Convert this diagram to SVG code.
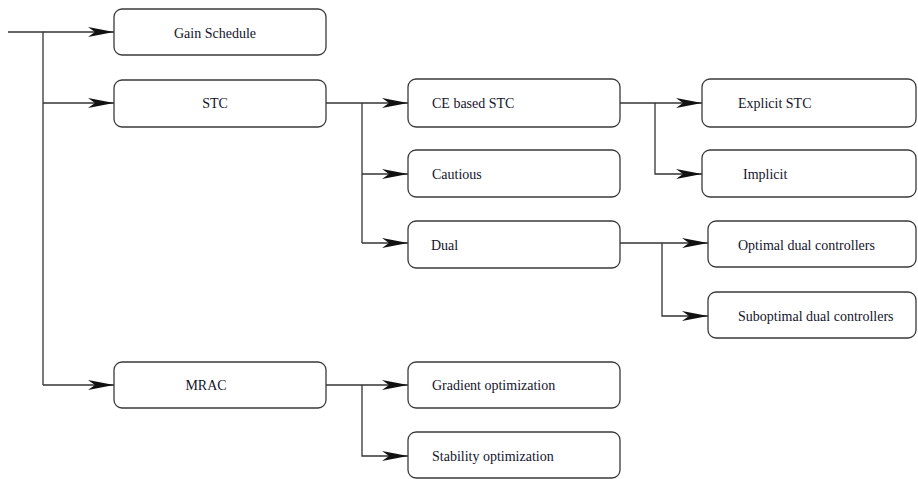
<svg xmlns="http://www.w3.org/2000/svg" width="918" height="479" viewBox="0 0 918 479">
<defs>
<style>
.box{fill:#fff;stroke:#3a3a3a;stroke-width:1.3}
.t{font-family:"Liberation Serif","Times New Roman",serif;font-size:14px;fill:#14142b}
.c{text-anchor:middle}
.ln{fill:none;stroke:#333;stroke-width:1.3}
</style>
<marker id="ah" viewBox="0 0 26 10" refX="26" refY="5" markerWidth="26" markerHeight="10" markerUnits="userSpaceOnUse" orient="auto">
<path d="M0,0 L26,5 L0,10 L7,5 Z" fill="#111"/>
</marker>
</defs>
<g id="connectors">
<path class="ln" d="M8,32 H43 V385"/>
<path class="ln" d="M43,32 H114" marker-end="url(#ah)"/>
<path class="ln" d="M43,103 H114" marker-end="url(#ah)"/>
<path class="ln" d="M43,385 H114" marker-end="url(#ah)"/>
<path class="ln" d="M326,103 H408" marker-end="url(#ah)"/>
<path class="ln" d="M362,103 V243"/>
<path class="ln" d="M362,174 H408" marker-end="url(#ah)"/>
<path class="ln" d="M362,243 H408" marker-end="url(#ah)"/>
<path class="ln" d="M620,103 H702" marker-end="url(#ah)"/>
<path class="ln" d="M655,103 V174 H702" marker-end="url(#ah)"/>
<path class="ln" d="M620,243 H708" marker-end="url(#ah)"/>
<path class="ln" d="M662,243 V316 H708" marker-end="url(#ah)"/>
<path class="ln" d="M326,385 H408" marker-end="url(#ah)"/>
<path class="ln" d="M362,385 V456 H408" marker-end="url(#ah)"/>
</g>
<g id="gain"><rect class="box" x="114" y="9" width="212" height="46" rx="8"/><text class="t c" x="215" y="38">Gain Schedule</text></g>
<g id="stc"><rect class="box" x="114" y="80" width="212" height="47" rx="8"/><text class="t c" x="215" y="108">STC</text></g>
<g id="mrac"><rect class="box" x="114" y="362" width="212" height="46" rx="8"/><text class="t c" x="206" y="390">MRAC</text></g>
<g id="ce"><rect class="box" x="408" y="79" width="212" height="48" rx="8"/><text class="t" x="432" y="108">CE based STC</text></g>
<g id="cautious"><rect class="box" x="408" y="150" width="212" height="47" rx="8"/><text class="t" x="432" y="179">Cautious</text></g>
<g id="dual"><rect class="box" x="408" y="221" width="212" height="47" rx="8"/><text class="t" x="431" y="250">Dual</text></g>
<g id="explicit"><rect class="box" x="702" y="79" width="214" height="48" rx="8"/><text class="t" x="738" y="108">Explicit STC</text></g>
<g id="implicit"><rect class="box" x="702" y="150" width="214" height="47" rx="8"/><text class="t" x="743" y="179">Implicit</text></g>
<g id="optimal"><rect class="box" x="708" y="221" width="208" height="46" rx="8"/><text class="t" x="738" y="250">Optimal dual controllers</text></g>
<g id="suboptimal"><rect class="box" x="708" y="292" width="208" height="46" rx="8"/><text class="t" x="738" y="321">Suboptimal dual controllers</text></g>
<g id="gradient"><rect class="box" x="408" y="362" width="212" height="46" rx="8"/><text class="t" x="432" y="390">Gradient optimization</text></g>
<g id="stability"><rect class="box" x="408" y="432" width="212" height="46" rx="8"/><text class="t" x="432" y="461">Stability optimization</text></g>
</svg>
